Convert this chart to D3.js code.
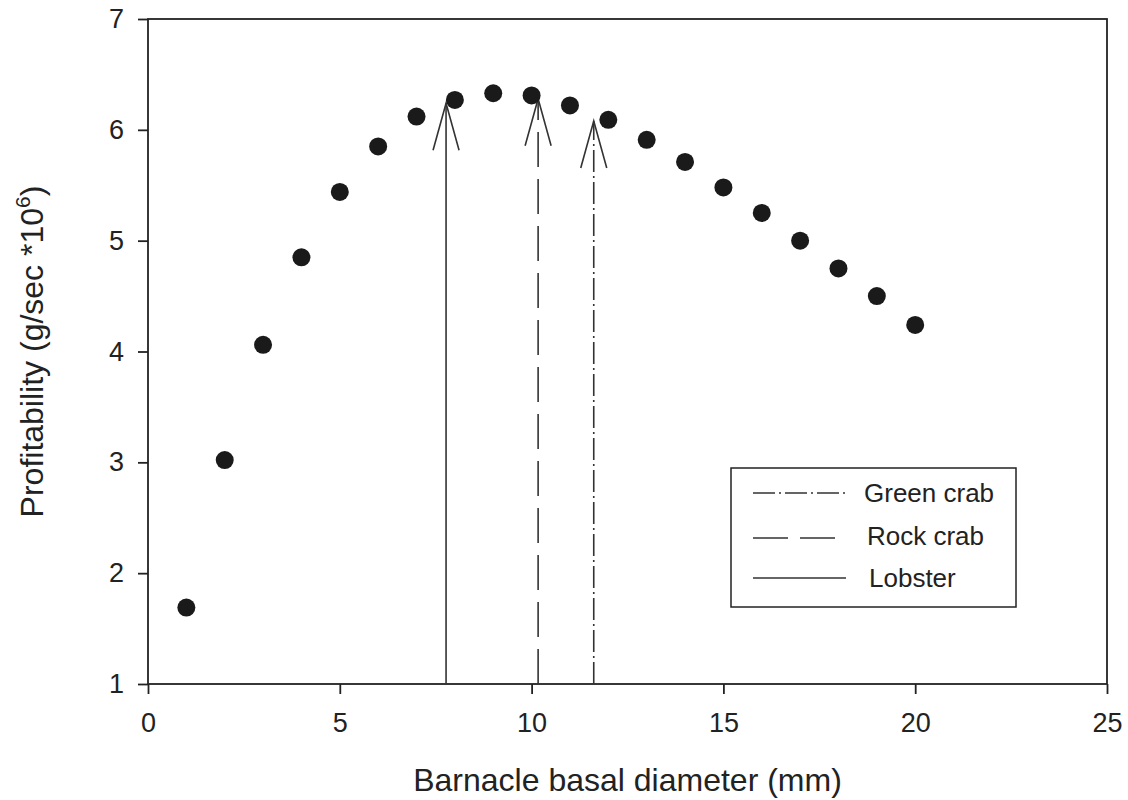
<!DOCTYPE html>
<html>
<head>
<meta charset="utf-8">
<script src="https://cdn.jsdelivr.net/npm/d3@7"></script>
<style>
  html, body { margin: 0; padding: 0; background: #fff; }
  svg { display: block; font-family: "Liberation Sans", Arial, sans-serif; }
</style>
</head>
<body>
<svg id="chart" width="1128" height="800"></svg>
<script>
// Barnacle size (mm) and the profitability of each size class
const diameters = [1, 2, 3, 4, 5, 6, 7, 8, 9, 10, 11, 12, 13, 14, 15, 16, 17, 18, 19, 20];
const profitability = [1.69, 3.02, 4.06, 4.85, 5.44, 5.85, 6.12, 6.27, 6.33, 6.31, 6.22, 6.09, 5.91, 5.71, 5.48, 5.25, 5.00, 4.75, 4.50, 4.24];

// Mean size of barnacles taken by each predator
const predators = ["Lobster", "Rock crab", "Green crab"];
const predatorSize = [7.77, 10.17, 11.62];
const predatorTop = [6.24, 6.28, 6.08];
const predatorDash = ["none", "35,12", "22,4,2,4"];

// Legend order (top to bottom)
const legendOrder = ["Green crab", "Rock crab", "Lobster"];

const xTicks = [0, 5, 10, 15, 20, 25];
const yTicks = [1, 2, 3, 4, 5, 6, 7];

const svg = d3.select("#chart");
const m = { left: 148, right: 1107, top: 19, bottom: 684 };
const x = d3.scaleLinear().domain([0, 25]).range([m.left, m.right]);
const y = d3.scaleLinear().domain([1, 7]).range([m.bottom, m.top]);
const ink = "#222";

// frame
svg.append("rect")
  .attr("x", m.left).attr("y", m.top)
  .attr("width", m.right - m.left).attr("height", m.bottom - m.top)
  .attr("fill", "none").attr("stroke", ink).attr("stroke-width", 1.8);

// axes
const xAxis = svg.append("g").attr("transform", `translate(0,${m.bottom})`)
  .call(d3.axisBottom(x).tickValues(xTicks).tickSize(10).tickPadding(19).tickFormat(d3.format("d")));
const yAxis = svg.append("g").attr("transform", `translate(${m.left},0)`)
  .call(d3.axisLeft(y).tickValues(yTicks).tickSize(10).tickPadding(14).tickFormat(d3.format("d")));
[xAxis, yAxis].forEach(g => {
  g.attr("font-size", null).attr("font-family", null);
  g.select(".domain").remove();
  g.selectAll(".tick line").attr("stroke", ink).attr("stroke-width", 1.8);
  g.selectAll(".tick text").attr("fill", ink).style("font-size", "27px");
});

// axis titles
svg.append("text")
  .attr("x", x(12.5)).attr("y", 791)
  .attr("text-anchor", "middle").attr("fill", ink)
  .style("font-size", "32px")
  .text("Barnacle basal diameter (mm)");

const yt = svg.append("text")
  .attr("transform", `translate(43,${y(4)}) rotate(-90)`)
  .attr("text-anchor", "middle").attr("fill", ink)
  .style("font-size", "32px");
yt.append("tspan").text("Profitability (g/sec *10");
yt.append("tspan").attr("dy", -13).style("font-size", "21px").text("6");
yt.append("tspan").attr("dy", 13).text(")");

// predator arrows
predators.forEach((p, i) => {
  const px = x(predatorSize[i]);
  const ty = y(predatorTop[i]);
  const g = svg.append("g").attr("stroke", "#333").attr("stroke-width", 1.6).attr("fill", "none");
  g.append("line")
    .attr("x1", px).attr("x2", px)
    .attr("y1", m.bottom).attr("y2", ty)
    .attr("stroke-dasharray", predatorDash[i]);
  g.append("path")
    .attr("d", `M${px - 13},${ty + 47} L${px},${ty} L${px + 13},${ty + 47}`);
});

// data points
svg.append("g").selectAll("circle")
  .data(diameters)
  .join("circle")
  .attr("cx", (d) => x(d))
  .attr("cy", (d, i) => y(profitability[i]))
  .attr("r", 9)
  .attr("fill", "#1a1a1a");

// legend
const lg = svg.append("g");
lg.append("rect")
  .attr("x", 731).attr("y", 468).attr("width", 285).attr("height", 139)
  .attr("fill", "#fff").attr("stroke", ink).attr("stroke-width", 1.5);
const legendLineY = [493, 538, 578];
const legendTextY = [502, 545, 587];
const legendTextX = [864, 867, 869];
const legendLineEnd = [848, 835, 846];
legendOrder.forEach((name, i) => {
  const k = predators.indexOf(name);
  lg.append("line")
    .attr("x1", 753).attr("x2", legendLineEnd[i])
    .attr("y1", legendLineY[i]).attr("y2", legendLineY[i])
    .attr("stroke", "#333").attr("stroke-width", 1.5)
    .attr("stroke-dasharray", predatorDash[k]);
  lg.append("text")
    .attr("x", legendTextX[i]).attr("y", legendTextY[i])
    .attr("fill", ink).style("font-size", "26px")
    .text(name);
});
</script>
</body>
</html>
